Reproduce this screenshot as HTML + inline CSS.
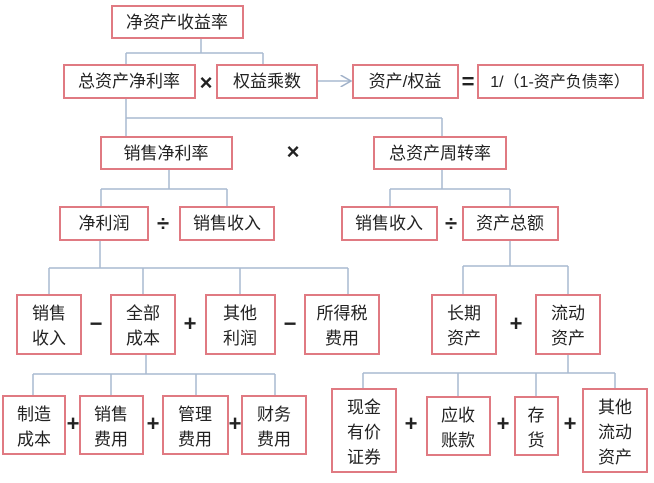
<!DOCTYPE html>
<html><head><meta charset="utf-8"><style>
html,body{margin:0;padding:0;background:#fff;}
svg text{font-family:"Liberation Sans","Noto Sans CJK SC",sans-serif;fill:#222;}
</style></head><body>
<svg width="654" height="478" viewBox="0 0 654 478" xmlns="http://www.w3.org/2000/svg">
<defs><marker id="ar" markerWidth="8" markerHeight="8" refX="7" refY="4" orient="auto"><path d="M0,0 L7,4 L0,8" fill="none" stroke="#9fb0c8" stroke-width="1"/></marker></defs>
<g stroke="#a9bad0" stroke-width="1.5" fill="none">
<path d="M201,38V53M126,53H263M126,53V65M263,53V65"/>
<path d="M126,98V137M126,118H442M442,118V137"/>
<path d="M169,169V189M101,189H227M101,189V207M227,189V207"/>
<path d="M442,169V189M390,189H510M390,189V207M510,189V207"/>
<path d="M100,240V268M49,268H348M49,268V295M143,268V295M240,268V295M348,268V295"/>
<path d="M510,240V266M463,266H568M463,266V295M568,266V295"/>
<path d="M146,354V374M33,374H275M33,374V396M111,374V396M196,374V396M275,374V396"/>
<path d="M568,354V373M363,373H615M363,373V389M458,373V397M536,373V397M615,373V389"/>
<path d="M317,81H351" marker-end="url(#ar)"/>
</g>
<g fill="#fff" stroke="#e07a82" stroke-width="2">
<rect x="112" y="6" width="131" height="32"/>
<rect x="64" y="65" width="131" height="33"/>
<rect x="217" y="65" width="100" height="33"/>
<rect x="353" y="65" width="105" height="33"/>
<rect x="478" y="65" width="165" height="33"/>
<rect x="101" y="137" width="131" height="32"/>
<rect x="374" y="137" width="132" height="32"/>
<rect x="60" y="207" width="88" height="33"/>
<rect x="180" y="207" width="94" height="33"/>
<rect x="342" y="207" width="95" height="33"/>
<rect x="463" y="207" width="95" height="33"/>
<rect x="17" y="295" width="64" height="59"/>
<rect x="111" y="295" width="64" height="59"/>
<rect x="206" y="295" width="69" height="59"/>
<rect x="305" y="295" width="74" height="59"/>
<rect x="432" y="295" width="64" height="59"/>
<rect x="536" y="295" width="64" height="59"/>
<rect x="3" y="396" width="62" height="58"/>
<rect x="80" y="396" width="63" height="58"/>
<rect x="163" y="396" width="65" height="58"/>
<rect x="242" y="396" width="64" height="58"/>
<rect x="332" y="389" width="64" height="83"/>
<rect x="427" y="397" width="63" height="58"/>
<rect x="515" y="397" width="43" height="58"/>
<rect x="583" y="389" width="64" height="83"/>
</g>
<g font-size="17" text-anchor="middle">
<text x="177" y="28">净资产收益率</text>
<text x="129" y="87">总资产净利率</text>
<text x="267" y="87">权益乘数</text>
<text x="405" y="87">资产/权益</text>
<text x="560" y="87" font-size="16">1/（1-资产负债率）</text>
<text x="166" y="159">销售净利率</text>
<text x="440" y="159">总资产周转率</text>
<text x="104" y="229">净利润</text>
<text x="227" y="229">销售收入</text>
<text x="389" y="229">销售收入</text>
<text x="510" y="229">资产总额</text>
<text x="49" y="319">销售</text><text x="49" y="344">收入</text>
<text x="143" y="319">全部</text><text x="143" y="344">成本</text>
<text x="240" y="319">其他</text><text x="240" y="344">利润</text>
<text x="342" y="319">所得税</text><text x="342" y="344">费用</text>
<text x="464" y="319">长期</text><text x="464" y="344">资产</text>
<text x="568" y="319">流动</text><text x="568" y="344">资产</text>
<text x="34" y="420">制造</text><text x="34" y="445">成本</text>
<text x="111" y="420">销售</text><text x="111" y="445">费用</text>
<text x="195" y="420">管理</text><text x="195" y="445">费用</text>
<text x="274" y="420">财务</text><text x="274" y="445">费用</text>
<text x="364" y="413">现金</text><text x="364" y="438">有价</text><text x="364" y="463">证券</text>
<text x="458" y="421">应收</text><text x="458" y="446">账款</text>
<text x="536" y="421">存</text><text x="536" y="446">货</text>
<text x="615" y="413">其他</text><text x="615" y="438">流动</text><text x="615" y="463">资产</text>
</g>
<g font-size="22" text-anchor="middle" font-weight="bold">
<text x="206" y="90">×</text>
<text x="293" y="159">×</text>
<text x="468" y="89">=</text>
<text x="163" y="231">÷</text>
<text x="451" y="231">÷</text>
<text x="96" y="331">−</text>
<text x="190" y="331">+</text>
<text x="290" y="331">−</text>
<text x="516" y="331">+</text>
<text x="73" y="431">+</text>
<text x="153" y="431">+</text>
<text x="235" y="431">+</text>
<text x="411" y="431">+</text>
<text x="503" y="431">+</text>
<text x="570" y="431">+</text>
</g>
</svg>
</body></html>
